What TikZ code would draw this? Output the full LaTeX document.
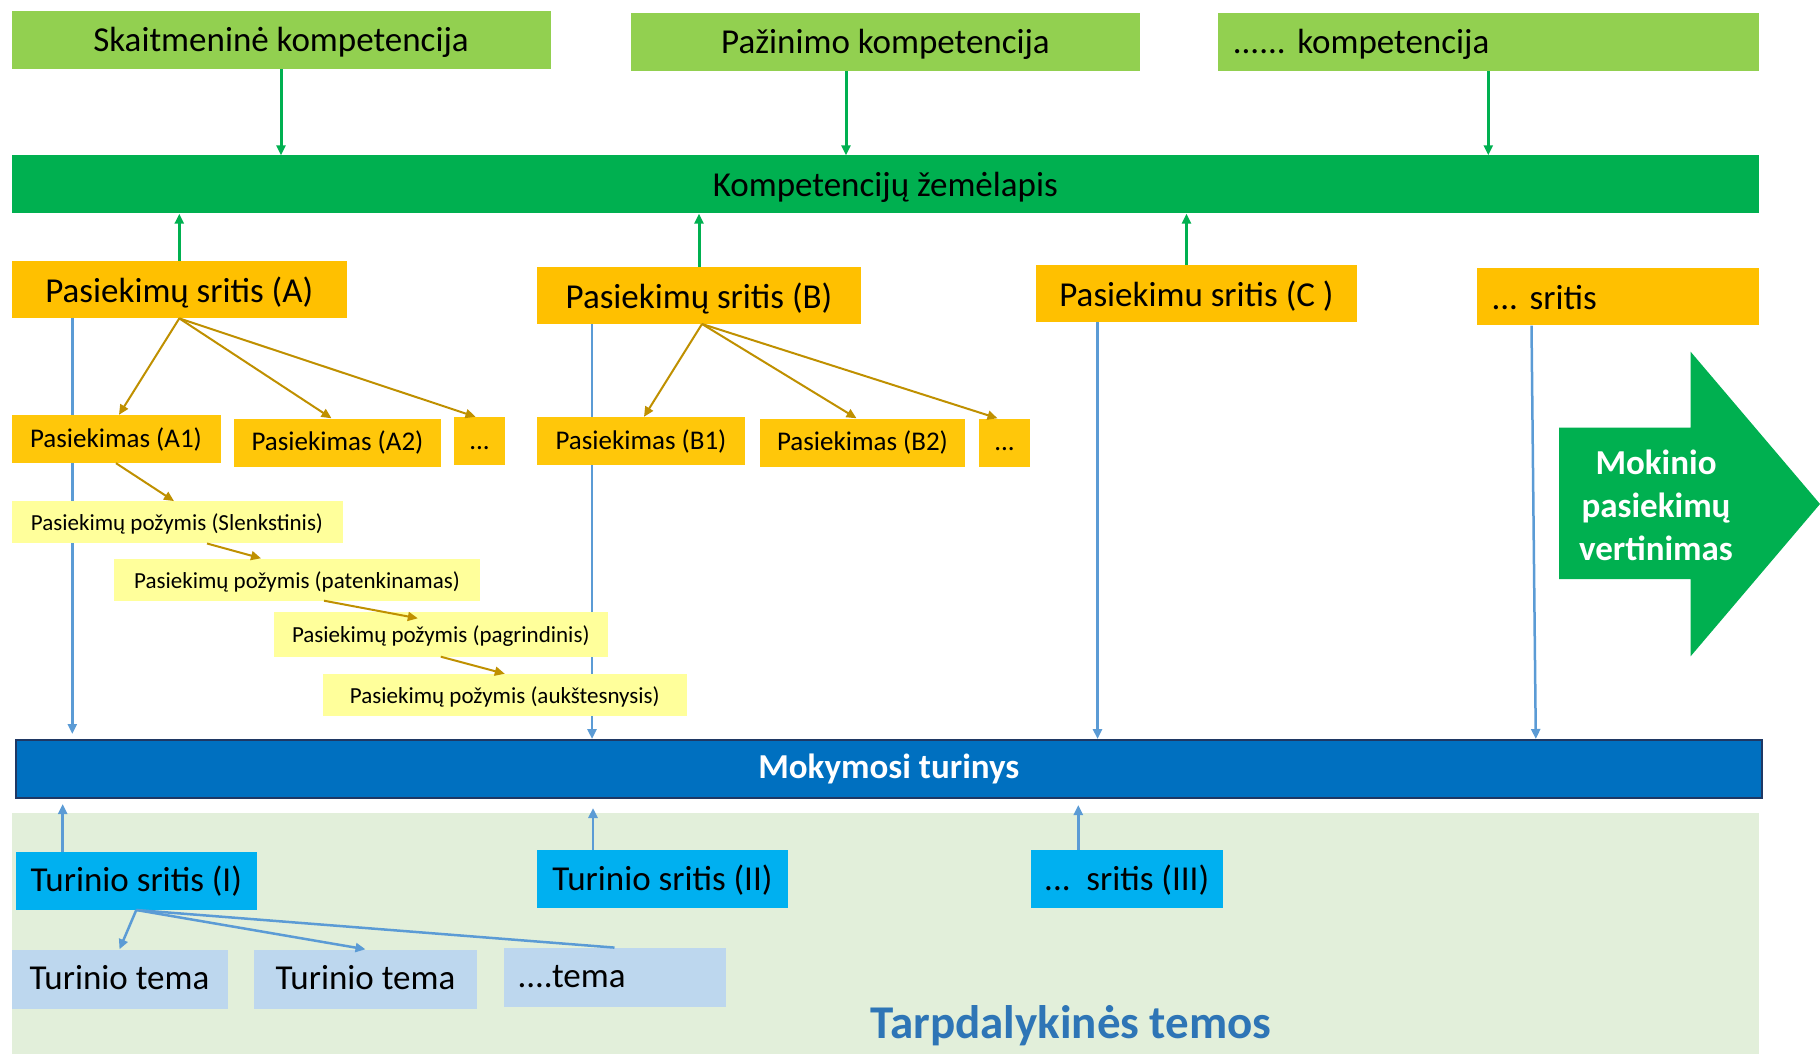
\documentclass[tikz,border=0pt]{standalone}
\usepackage{fontspec}
\setmainfont{Carlito}
\usetikzlibrary{arrows.meta}
\frenchspacing

\definecolor{kompgreen}{HTML}{92D050}
\definecolor{mapgreen}{HTML}{00B050}
\definecolor{areaorange}{HTML}{FFC000}
\definecolor{achyellow}{HTML}{FFC70A}
\definecolor{signyellow}{HTML}{FFFF9B}
\definecolor{contentblue}{HTML}{0070C0}
\definecolor{barnavy}{HTML}{1F3864}
\definecolor{contblue}{HTML}{00B0F0}
\definecolor{topicblue}{HTML}{BDD7EE}
\definecolor{crossgreen}{HTML}{E2EFDA}
\definecolor{titleblue}{HTML}{2E75B6}
\definecolor{linkblue}{HTML}{5B9BD5}
\definecolor{goldline}{HTML}{BF9000}

\begin{document}
\begin{tikzpicture}[x=1pt, y=-1pt,
  kompbox/.style={rectangle, fill=kompgreen, minimum height=58pt, inner sep=0pt, text height=28pt, text depth=4pt, font=\fontsize{35}{42}\selectfont},
  mapbar/.style={rectangle, fill=mapgreen, minimum height=58pt, inner sep=0pt, text height=28pt, text depth=4pt, font=\fontsize{35}{42}\selectfont},
  areabox/.style={rectangle, fill=areaorange, minimum height=57pt, inner sep=0pt, text height=30pt, text depth=4pt, font=\fontsize{35}{42}\selectfont},
  achbox/.style={rectangle, fill=achyellow, minimum height=48pt, inner sep=0pt, text height=20pt, text depth=4pt, font=\fontsize{27}{32}\selectfont},
  signbox/.style={rectangle, fill=signyellow, minimum height=42pt, inner sep=0pt, text height=20pt, text depth=3pt, font=\fontsize{23}{28}\selectfont},
  contentbar/.style={rectangle, fill=contentblue, draw=barnavy, line width=2pt, minimum height=58pt, inner sep=0pt, text=white, font=\bfseries\fontsize{35}{42}\selectfont},
  contbox/.style={rectangle, fill=contblue, minimum height=58pt, inner sep=0pt, text height=26pt, text depth=4pt, font=\fontsize{35}{42}\selectfont},
  topicbox/.style={rectangle, fill=topicblue, minimum height=59pt, inner sep=0pt, text height=25pt, text depth=4pt, font=\fontsize{35}{42}\selectfont},
  leftbox/.style={text width=#1, align=left, inner xsep=15pt},
  greenarrow/.style={-{Triangle[length=10pt,width=9pt]}, line width=3pt, draw=mapgreen},
  goldarrow/.style={-{Triangle[length=10pt,width=9pt]}, line width=2pt, draw=goldline},
  bluearrow/.style={-{Triangle[length=10pt,width=9pt]}, line width=2.5pt, draw=linkblue}
]
\useasboundingbox (0,0) rectangle (1820,1056);
\fill[crossgreen] (11.6,812.5) rectangle (1759,1054);

\node[kompbox, minimum width=539pt] (skait) at (281,40) {Skaitmeninė kompetencija};
\node[kompbox, minimum width=509pt] (pazin) at (885.5,42) {Pažinimo kompetencija};
\node[kompbox, leftbox=511pt] (otherkomp) at (1488.3,42) {...... kompetencija};
\node[mapbar, minimum width=1747pt] (map) at (885.3,184.5) {Kompetencijų žemėlapis};

\node[areabox, minimum width=335pt] (areaA) at (179.3,289.7) {Pasiekimų sritis (A)};
\node[areabox, minimum width=324pt] (areaB) at (699,295.3) {Pasiekimų sritis (B)};
\node[areabox, minimum width=321pt] (areaC) at (1196.5,293.7) {Pasiekimu sritis (C )};
\node[areabox, leftbox=252pt] (areaX) at (1617.5,297) {... sritis};

\node[contentbar, minimum width=1746pt] (content) at (888.8,769) {Mokymosi turinys};

\draw[greenarrow] (skait.south) -- (skait.south |- map.north);
\draw[greenarrow] ([xshift=-39.5pt]pazin.south) -- ([xshift=-39.5pt]pazin.south |- map.north);
\draw[greenarrow] (otherkomp.south) -- (otherkomp.south |- map.north);
\draw[greenarrow] (areaA.north) -- (areaA.north |- map.south);
\draw[greenarrow] (areaB.north) -- (areaB.north |- map.south);
\draw[greenarrow] ([xshift=-10pt]areaC.north) -- ([xshift=-10pt]areaC.north |- map.south);

\draw[bluearrow, shorten >=5pt] ([xshift=-107pt]areaA.south) -- ([xshift=-107pt]areaA.south |- content.north);
\draw[bluearrow] ([xshift=-107pt]areaB.south) -- ([xshift=-107pt]areaB.south |- content.north);
\draw[bluearrow] ([xshift=-99pt]areaC.south) -- ([xshift=-99pt]areaC.south |- content.north);
\draw[bluearrow] ([xshift=-86pt]areaX.south) -- ([xshift=647pt]content.north);

\node[achbox, minimum width=209pt] (achA1) at (116,439) {Pasiekimas (A1)};
\node[achbox, minimum width=207pt] (achA2) at (337.5,442.5) {Pasiekimas (A2)};
\node[achbox, minimum width=51pt] (achAx) at (479.5,441) {...};
\node[achbox, minimum width=208pt] (achB1) at (641,441) {Pasiekimas (B1)};
\node[achbox, minimum width=205pt] (achB2) at (862.5,442.5) {Pasiekimas (B2)};
\node[achbox, minimum width=51pt] (achBx) at (1004.5,442.5) {...};

\node[signbox, minimum width=331pt] (sign1) at (177,522.3) {Pasiekimų požymis (Slenkstinis)};
\node[signbox, minimum width=366pt] (sign2) at (297,579.5) {Pasiekimų požymis (patenkinamas)};
\node[signbox, minimum width=334pt, minimum height=45pt] (sign3) at (440.8,634) {Pasiekimų požymis (pagrindinis)};
\node[signbox, minimum width=364pt] (sign4) at (504.8,695) {Pasiekimų požymis (aukštesnysis)};

\draw[goldarrow] (areaA.south) -- ([xshift=3pt]achA1.north);
\draw[goldarrow] (areaA.south) -- ([xshift=-6pt]achA2.north);
\draw[goldarrow] (areaA.south) -- ([xshift=-4pt]achAx.north);
\draw[goldarrow] ([xshift=3pt]areaB.south) -- ([xshift=3pt]achB1.north);
\draw[goldarrow] ([xshift=3pt]areaB.south) -- ([xshift=-6pt]achB2.north);
\draw[goldarrow] ([xshift=3pt]areaB.south) -- ([xshift=-7pt]achBx.north);
\draw[goldarrow] (achA1.south) -- ([xshift=-3pt]sign1.north);
\draw[goldarrow] ([xshift=30pt]sign1.south) -- ([xshift=-36pt]sign2.north);
\draw[goldarrow] ([xshift=27pt]sign2.south) -- ([xshift=-23pt,yshift=-7pt]sign3.north);
\draw[goldarrow] (sign3.south) -- (sign4.north);

\node[contbox, minimum width=241pt] (contI) at (136.3,880.8) {Turinio sritis (I)};
\node[contbox, minimum width=251pt] (contII) at (662.5,879) {Turinio sritis (II)};
\node[contbox, minimum width=192pt] (contIII) at (1126.7,879) {...\ \ sritis (III)};

\node[topicbox, minimum width=216pt] (topic1) at (119.5,979) {Turinio tema};
\node[topicbox, minimum width=223pt] (topic2) at (365.5,979) {Turinio tema};
\node[topicbox, leftbox=194pt, inner xsep=14pt] (topicX) at (614.5,977.3) {....tema};

\draw[bluearrow, shorten >=5pt] ([xshift=-73.6pt]contI.north) -- ([xshift=-73.6pt]contI.north |- content.south);
\draw[bluearrow, shorten >=9pt] ([xshift=-69.5pt]contII.north) -- ([xshift=-69.5pt]contII.north |- content.south);
\draw[bluearrow, shorten >=6pt] ([xshift=-48.4pt]contIII.north) -- ([xshift=-48.4pt]contIII.north |- content.south);
\draw[bluearrow] (contI.south) -- (topic1.north);
\draw[bluearrow] (contI.south) -- (topic2.north);
\draw[linkblue, line width=2.5pt] (contI.south) -- (topicX.north);

\fill[mapgreen] (1559,427.7) -- (1690.6,427.7) -- (1690.6,351.7) -- (1820,504) -- (1690.6,656.3) -- (1690.6,579.2) -- (1559,579.2) -- cycle;
\node[text=white, align=center, font=\bfseries\fontsize{35}{43}\selectfont] (assess) at (1656,505) {Mokinio\\pasiekimų\\vertinimas};

\node[anchor=base, text=titleblue, font=\bfseries\fontsize{47}{56}\selectfont] (cross) at (1071,1038) {Tarpdalykinės temos};
\end{tikzpicture}
\end{document}
